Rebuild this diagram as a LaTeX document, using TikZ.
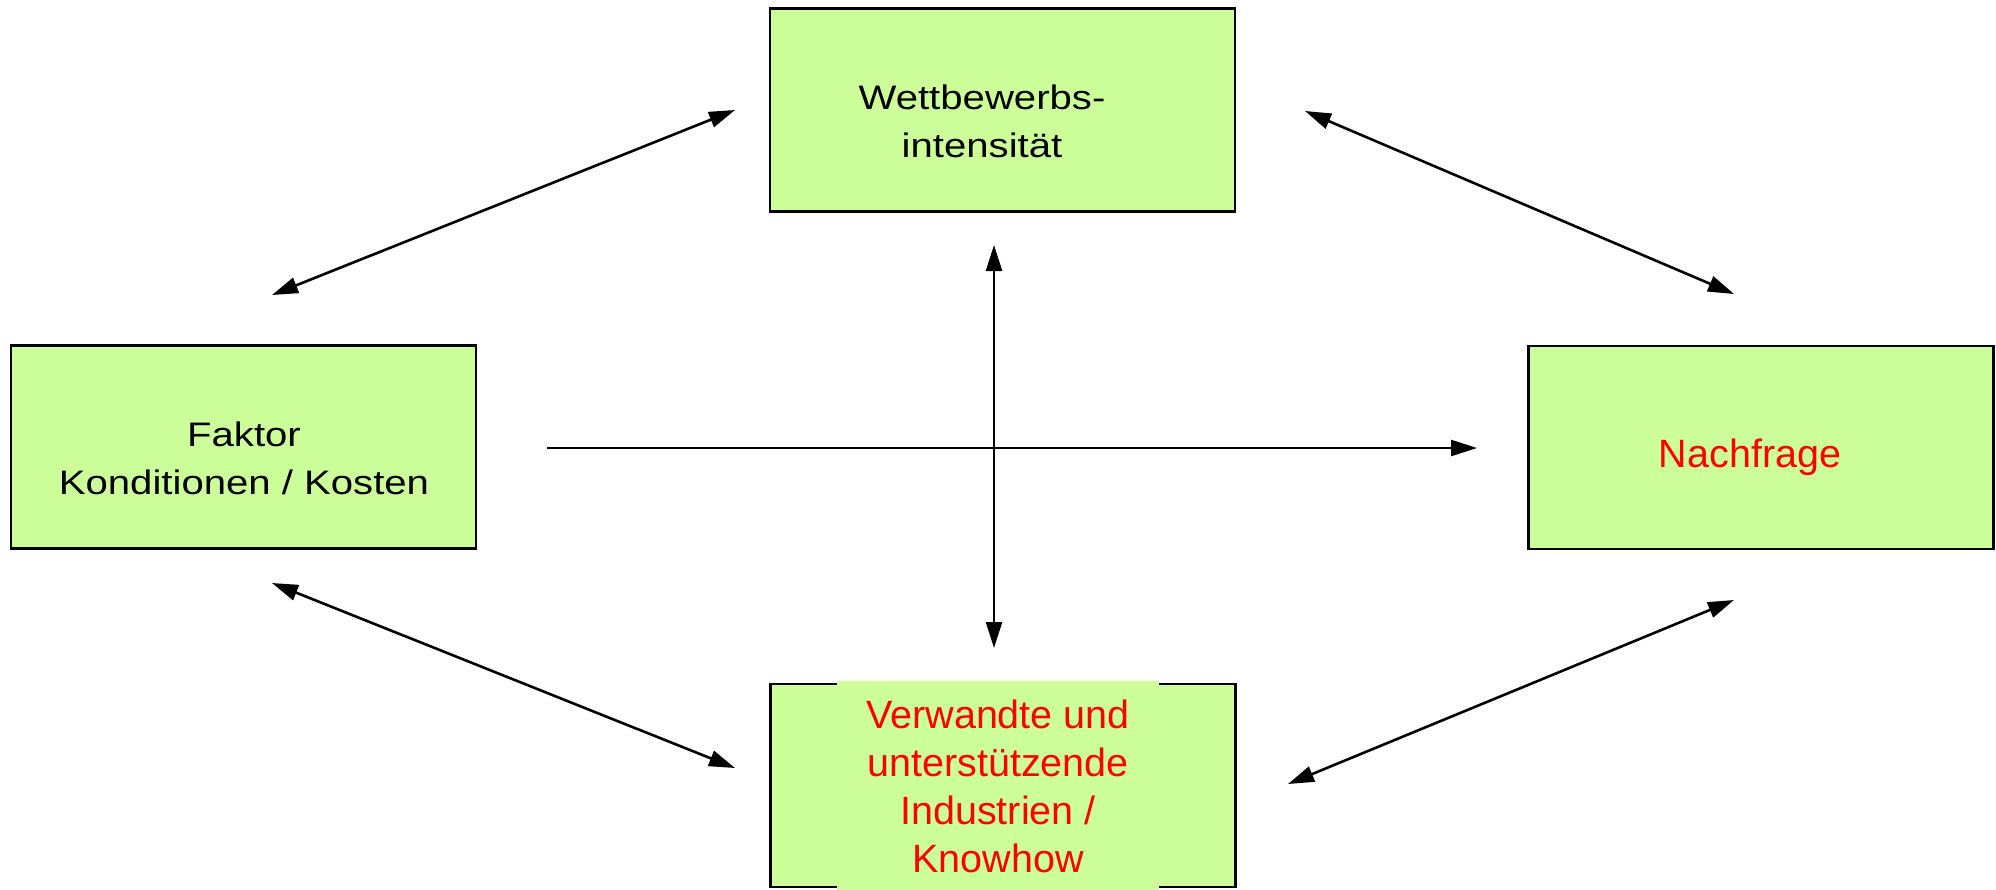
\documentclass[tikz,border=0pt]{standalone}
\usepackage{fontspec}
\setmainfont{Liberation Sans}
\newfontfamily\widesans[FakeStretch=1.18]{Liberation Sans}
\usetikzlibrary{arrows.meta}
\definecolor{boxgreen}{RGB}{204,255,153}
\begin{document}
\begin{tikzpicture}[x=1pt,y=-1pt,
  box/.style={draw=black, line width=2.2pt, fill=boxgreen, rectangle,
    inner sep=0pt, minimum width=465pt, minimum height=203pt},
  blacklabel/.style={align=center, inner sep=0pt,
    font=\widesans\fontsize{34}{47.5}\selectfont, text=black},
  redlabel/.style={align=center, inner sep=0pt,
    font=\fontsize{39.5}{48}\selectfont, text=red},
  link/.style={line width=2.6pt, {Triangle[length=26pt,width=16pt]}-{Triangle[length=26pt,width=16pt]}},
  flow/.style={line width=2.6pt, -{Triangle[length=26pt,width=16pt]}}
]
\useasboundingbox (0,0) rectangle (1996,889);

% the four boxes
\node[box] (wett)  at (1002.5,110)  {};
\node[box] (faktor) at (243.5,447)  {};
\node[box] (nach)  at (1761,447.5)  {};
\node[box] (verw)  at (1003,785.5)  {};

% box texts (base anchor = baseline of the last line)
\node[blacklabel, anchor=base] (wettText) at (982,157) {Wettbewerbs-\\intensität};
\node[blacklabel, anchor=base] (faktorText) at (244,494) {Faktor\\Konditionen / Kosten};
\node[redlabel, anchor=base] (nachText) at (1750,467) {Nachfrage};
\node[redlabel, fill=boxgreen, minimum width=322pt, minimum height=210pt]
  (verwText) at (998,786) {Verwandte und\\unterstützende\\Industrien /\\Knowhow};

% connector end points
\coordinate (tlA) at (272,295);
\coordinate (tlB) at (735,110);
\coordinate (trA) at (1305,111);
\coordinate (trB) at (1734,294);
\coordinate (blA) at (272,583);
\coordinate (blB) at (735,768);
\coordinate (brA) at (1288,784);
\coordinate (brB) at (1734,600);
\coordinate (hA) at (547,448);
\coordinate (hB) at (1477,448);
\coordinate (vA) at (994,245);
\coordinate (vB) at (994,648);

% connectors
\draw[link] (tlA) -- (tlB);
\draw[link] (trA) -- (trB);
\draw[link] (blA) -- (blB);
\draw[link] (brA) -- (brB);
\draw[flow] (hA) -- (hB);
\draw[link] (vA) -- (vB);
\end{tikzpicture}
\end{document}
